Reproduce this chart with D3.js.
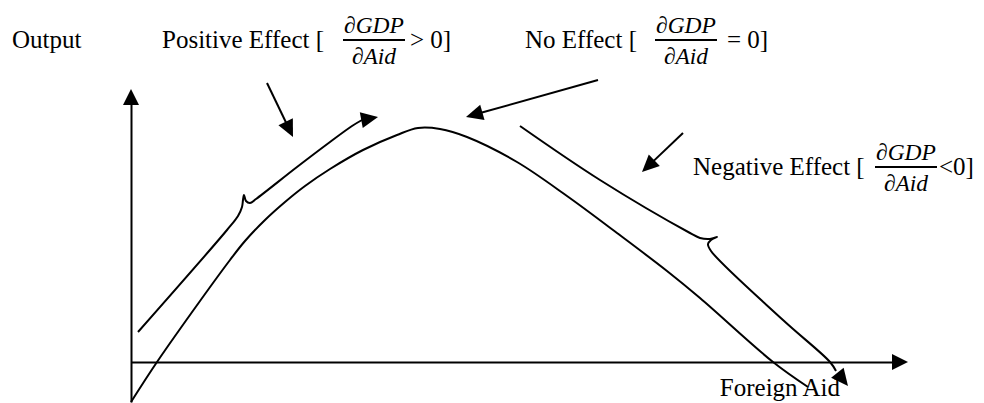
<!DOCTYPE html>
<html><head><meta charset="utf-8">
<script src="https://cdn.jsdelivr.net/npm/d3@7"></script>
<style>body{margin:0;background:#fff}svg{display:block}</style>
</head><body>
<svg id="c" width="984" height="403"></svg>
<script>
// ---- data (chart units: x = foreign aid, y = output) ----
const outputCurve = [[0,-40],[26,0],[69,61],[99,102],[114,121],[134,142],[154,160],[174,176],[199,193],[232,212],[266,227],[287,234],[309,233],[336,225],[386,200],[436,166],[486,129],[536,91],[569,64],[642,0],[677,-25]];
const positiveBrace = [[7,30],[96,132],[107,146],[111,155],[112,162],[113,167],[115,161],[119,159],[125,163],[166,195],[199,220],[221,236],[231,242]];
const positiveBraceTip = [247,245];
const negativeBrace = [[389,236],[469,182],[559,129],[569,124],[579,123],[586,125],[580,122],[577,118],[580,111],[652,42],[699,0],[705,-9]];
const negativeBraceTip = [717,-24];
const pointerFrom = [[136,279],[467,282],[552,229]];
const pointerTo = [[162,225],[335,245],[511,190]];
const axisTitles = ["Output","Foreign Aid"];
const effectNames = ["Positive Effect [","No Effect [","Negative Effect ["];
const effectSigns = ["> 0]","= 0]","<0]"];
const fracNum = "∂GDP", fracDen = "∂Aid";

// ---- layout ----
const svg = d3.select("#c");
const x = d3.scaleLinear().domain([0,762]).range([131,893]);
const y = d3.scaleLinear().domain([-40,258]).range([402,104]);
const ink = "#000";
const serif = "'Liberation Serif','Times New Roman',serif";

function arrowHead(tip, from, len, hw){
  const dx = tip[0]-from[0], dy = tip[1]-from[1];
  const d = Math.hypot(dx,dy), ux = dx/d, uy = dy/d;
  const bx = tip[0]-ux*len, by = tip[1]-uy*len;
  svg.append("path")
    .attr("d", `M${tip[0]},${tip[1]}L${bx-uy*hw},${by+ux*hw}L${bx+uy*hw},${by-ux*hw}Z`)
    .attr("fill", ink);
}

// axes (no ticks)
svg.append("g").attr("transform",`translate(0,${y(0)})`)
  .call(d3.axisBottom(x).tickValues([]).tickSizeOuter(0));
svg.append("g").attr("transform",`translate(${x(0)},0)`)
  .call(d3.axisLeft(y).tickValues([]).tickSizeOuter(0));
svg.selectAll(".domain").attr("stroke",ink).attr("stroke-width",2);
arrowHead([x(762)+15, y(0)], [x(762), y(0)], 16, 8);
arrowHead([x(0), y(258)-15], [x(0), y(258)], 16, 8);

const line = d3.line().x(d=>x(d[0])).y(d=>y(d[1])).curve(d3.curveCatmullRom.alpha(0.5));
const drawPath = pts => svg.append("path").attr("d", line(pts))
  .attr("fill","none").attr("stroke",ink).attr("stroke-width",2).attr("stroke-linejoin","round");

drawPath(outputCurve);
drawPath(positiveBrace);
const pb = positiveBrace[positiveBrace.length-1];
svg.append("line").attr("x1",x(pb[0])).attr("y1",y(pb[1])).attr("x2",x(positiveBraceTip[0])-8).attr("y2",y(positiveBraceTip[1])+1)
  .attr("stroke",ink).attr("stroke-width",2);
arrowHead([x(positiveBraceTip[0]),y(positiveBraceTip[1])],[x(pb[0]),y(pb[1])],17,8);
drawPath(negativeBrace);
const nb = negativeBrace[negativeBrace.length-1];
arrowHead([x(negativeBraceTip[0]),y(negativeBraceTip[1])],[x(nb[0]),y(nb[1])],17,8);

pointerFrom.forEach((f,i)=>{
  const t = pointerTo[i];
  const fx=x(f[0]), fy=y(f[1]), tx=x(t[0]), ty=y(t[1]);
  const d=Math.hypot(tx-fx,ty-fy);
  svg.append("line").attr("x1",fx).attr("y1",fy)
    .attr("x2",tx-(tx-fx)/d*10).attr("y2",ty-(ty-fy)/d*10)
    .attr("stroke",ink).attr("stroke-width",2);
  arrowHead([tx,ty],[fx,fy],17,8);
});

// ---- text ----
const txt = (s, px, py, size, italic, anchor) => svg.append("text")
  .attr("x",px).attr("y",py).text(s)
  .attr("font-family",serif).attr("font-size",size)
  .attr("font-style", italic?"italic":"normal")
  .attr("text-anchor", anchor||"start").attr("fill",ink);

txt(axisTitles[0], 12, 48, 25);
txt(axisTitles[1], 840, 396, 25, false, "end");

const effectPos = [[162,48,343,410],[525,48,655,727],[693,175,875,939]];
effectNames.forEach((s,i)=>{
  const p = effectPos[i];
  txt(s, p[0], p[1], 25);
  const cx = p[2]+31, ly = p[1]-8;
  svg.append("line").attr("x1",p[2]).attr("x2",p[2]+62).attr("y1",ly).attr("y2",ly)
    .attr("stroke",ink).attr("stroke-width",2);
  txt(fracNum, cx, ly-7, 23.5, true, "middle");
  txt(fracDen, cx, ly+24, 23.5, true, "middle");
  txt(effectSigns[i], p[3], p[1], 25);
});
</script>
</body></html>
